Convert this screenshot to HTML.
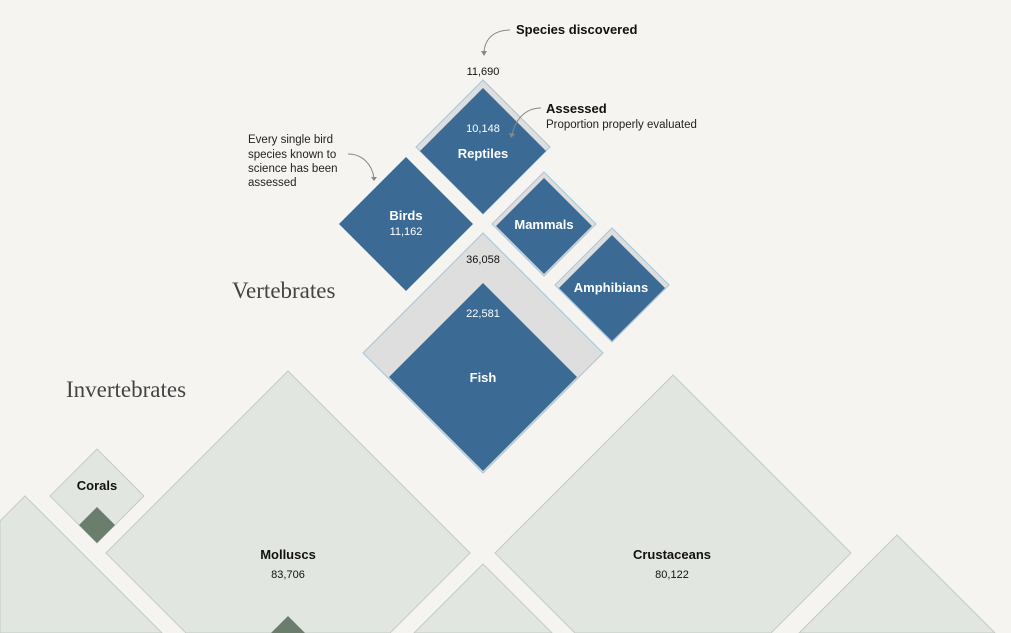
<!DOCTYPE html>
<html><head><meta charset="utf-8"><style>
html,body{margin:0;padding:0;background:#f5f4f0;width:1011px;height:633px;overflow:hidden;}
svg{display:block}
.s{font-family:"Liberation Sans",sans-serif;}
</style></head><body>
<svg width="1011" height="633" viewBox="0 0 1011 633" xmlns="http://www.w3.org/2000/svg" class="s" overflow="hidden">
<rect width="1011" height="633" fill="#f5f4f0"/>
<g fill="#e2e6e0" stroke="#c3ccc4" stroke-width="1">
<polygon points="25,496 162,633 0,633 0,521"/>
<polygon points="97,449 144,496 97,543 50,496"/>
<polygon points="288,371 470,553 390,633 186,633 106,553"/>
<polygon points="673,375 851,553 771,633 575,633 495,553"/>
<polygon points="483,564 552,633 414,633"/>
<polygon points="897,535 995,633 799,633"/>
</g>
<g fill="#6b7d6c">
<polygon points="97,507 115,525 97,543 79,525"/>
<polygon points="288,616 305,633 271,633"/>
</g>
<g fill="#dedede" stroke="#a8c6d6" stroke-width="1">
<polygon points="483,80 550,147 483,214 416,147"/>
<polygon points="544,172 596,224 544,276 492,224"/>
<polygon points="612,228 669,285 612,342 555,285"/>
<polygon points="483,233 603,353 483,473 363,353"/>
</g>
<g fill="#3b6a94">
<polygon points="483,88 546,151 483,214 420,151"/>
<polygon points="406,157 473,224 406,291 339,224"/>
<polygon points="544,178 592,226 544,274 496,226"/>
<polygon points="612,235 665,288 612,341 559,288"/>
<polygon points="483,283 577,377 483,471 389,377"/>
</g>
<g fill="none" stroke="#888" stroke-width="1">
<path d="M510,30 C495,30 485,38 484,52"/>
<path d="M541,108 C525,108 515,120 512,135"/>
<path d="M348,154 C362,154 372,164 374,178"/>
</g>
<g fill="#888">
<polygon points="481,51 487,51 484,56"/>
<polygon points="509,133 515,134 511,138"/>
<polygon points="371,177 377,177 374,181"/>
</g>
<text x="516" y="34" font-size="13" font-weight="bold" fill="#111">Species discovered</text>
<text x="483" y="75" font-size="11" text-anchor="middle" fill="#111">11,690</text>
<text x="546" y="113" font-size="13" font-weight="bold" fill="#111">Assessed</text>
<text x="546" y="128" font-size="11.5" fill="#222">Proportion properly evaluated</text>
<g font-size="11.5" fill="#222">
<text x="248" y="143">Every single bird</text>
<text x="248" y="158">species known to</text>
<text x="248" y="172">science has been</text>
<text x="248" y="186">assessed</text>
</g>
<g fill="#fff" text-anchor="middle">
<text x="483" y="132" font-size="11">10,148</text>
<text x="483" y="158" font-size="13" font-weight="bold">Reptiles</text>
<text x="406" y="220" font-size="13" font-weight="bold">Birds</text>
<text x="406" y="235" font-size="11">11,162</text>
<text x="544" y="229" font-size="13" font-weight="bold">Mammals</text>
<text x="611" y="292" font-size="13" font-weight="bold">Amphibians</text>
<text x="483" y="317" font-size="11">22,581</text>
<text x="483" y="382" font-size="13" font-weight="bold">Fish</text>
</g>
<text x="483" y="263" font-size="11" text-anchor="middle" fill="#111">36,058</text>
<text x="232" y="298" font-size="23" fill="#444" font-family="Liberation Serif,serif">Vertebrates</text>
<text x="66" y="397" font-size="23" fill="#444" font-family="Liberation Serif,serif">Invertebrates</text>
<g text-anchor="middle" fill="#111">
<text x="97" y="490" font-size="13" font-weight="bold">Corals</text>
<text x="288" y="559" font-size="13" font-weight="bold">Molluscs</text>
<text x="288" y="578" font-size="11">83,706</text>
<text x="672" y="559" font-size="13" font-weight="bold">Crustaceans</text>
<text x="672" y="578" font-size="11">80,122</text>
</g>
</svg>
</body></html>
